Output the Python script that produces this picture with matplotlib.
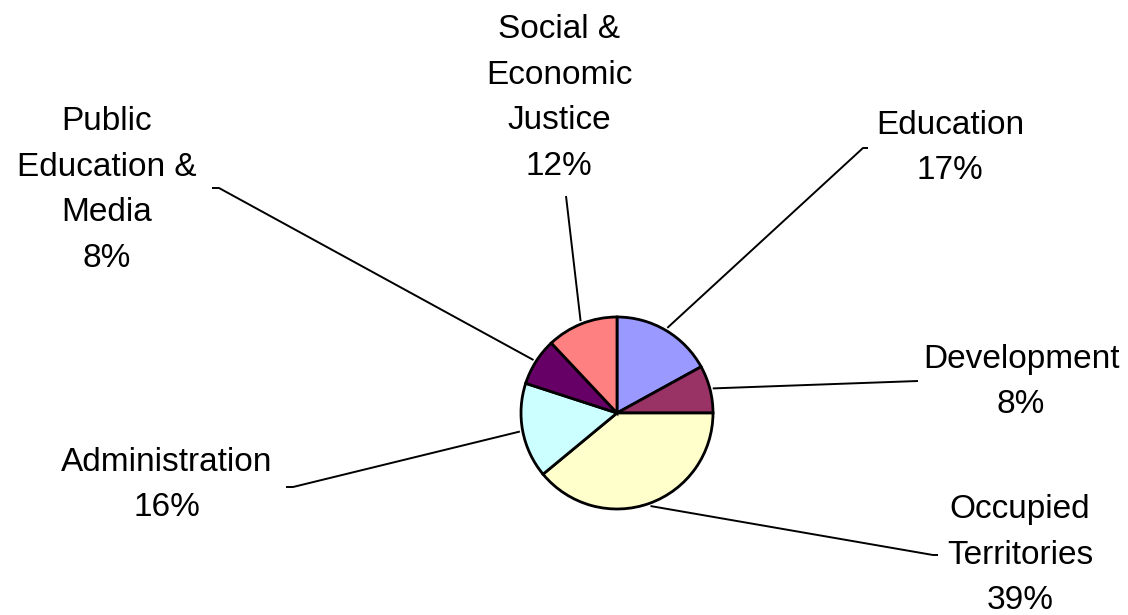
import numpy as np
import matplotlib
matplotlib.use("Agg")
import matplotlib.pyplot as plt

# --- data: share of budget by program area (clockwise from 12 o'clock) ---
categories = ["Education", "Development", "Occupied\nTerritories",
              "Administration", "Public\nEducation &\nMedia",
              "Social &\nEconomic\nJustice"]
shares = [17, 8, 39, 16, 8, 12]
colors = ["#9999FF", "#993366", "#FFFFCC", "#CCFFFF", "#660066", "#FF8080"]

# --- layout (pixels from top-left of a 1128x615 canvas) ---
W, H = 1128, 615
pie_center = (617, 413)
pie_radius = 96
label_pos = [(950, 148), (1021, 382), (1020, 555),
             (167, 485), (107, 190), (559, 98)]
leader_end = [(863, 148), (918, 381), (933, 555),
              (293, 487), (219, 188), (566, 196)]
tick_dx = [5, 0, 5, 7, 7, 0]

fig = plt.figure(figsize=(W / 100, H / 100), dpi=100)
ax = fig.add_axes([0, 0, 1, 1])

cx, cy = pie_center[0], H - pie_center[1]
wedges, _ = ax.pie(shares, colors=colors, startangle=90, counterclock=False,
                   center=(cx, cy), radius=pie_radius, frame=True,
                   wedgeprops=dict(edgecolor="black", linewidth=2.0))

ax.set_xlim(0, W)
ax.set_ylim(0, H)
ax.set_aspect("equal")
ax.axis("off")

for w, cat, val, (lx, ly), (ex, ey), dx in zip(wedges, categories, shares,
                                               label_pos, leader_end, tick_dx):
    mid = np.deg2rad((w.theta1 + w.theta2) / 2)
    sx = cx + 1.03 * pie_radius * np.cos(mid)
    sy = cy + 1.03 * pie_radius * np.sin(mid)
    # leader line with short horizontal tick at the label end
    side = 1 if ex > cx else -1
    ax.plot([ex + side * dx, ex, sx], [H - ey, H - ey, sy],
            color="black", linewidth=1.4, solid_capstyle="butt")
    ax.text(lx, H - ly, f"{cat}\n{val}%", ha="center", va="center",
            fontsize=24, family="Liberation Sans", linespacing=1.6)

fig.savefig("out.png", dpi=100)
